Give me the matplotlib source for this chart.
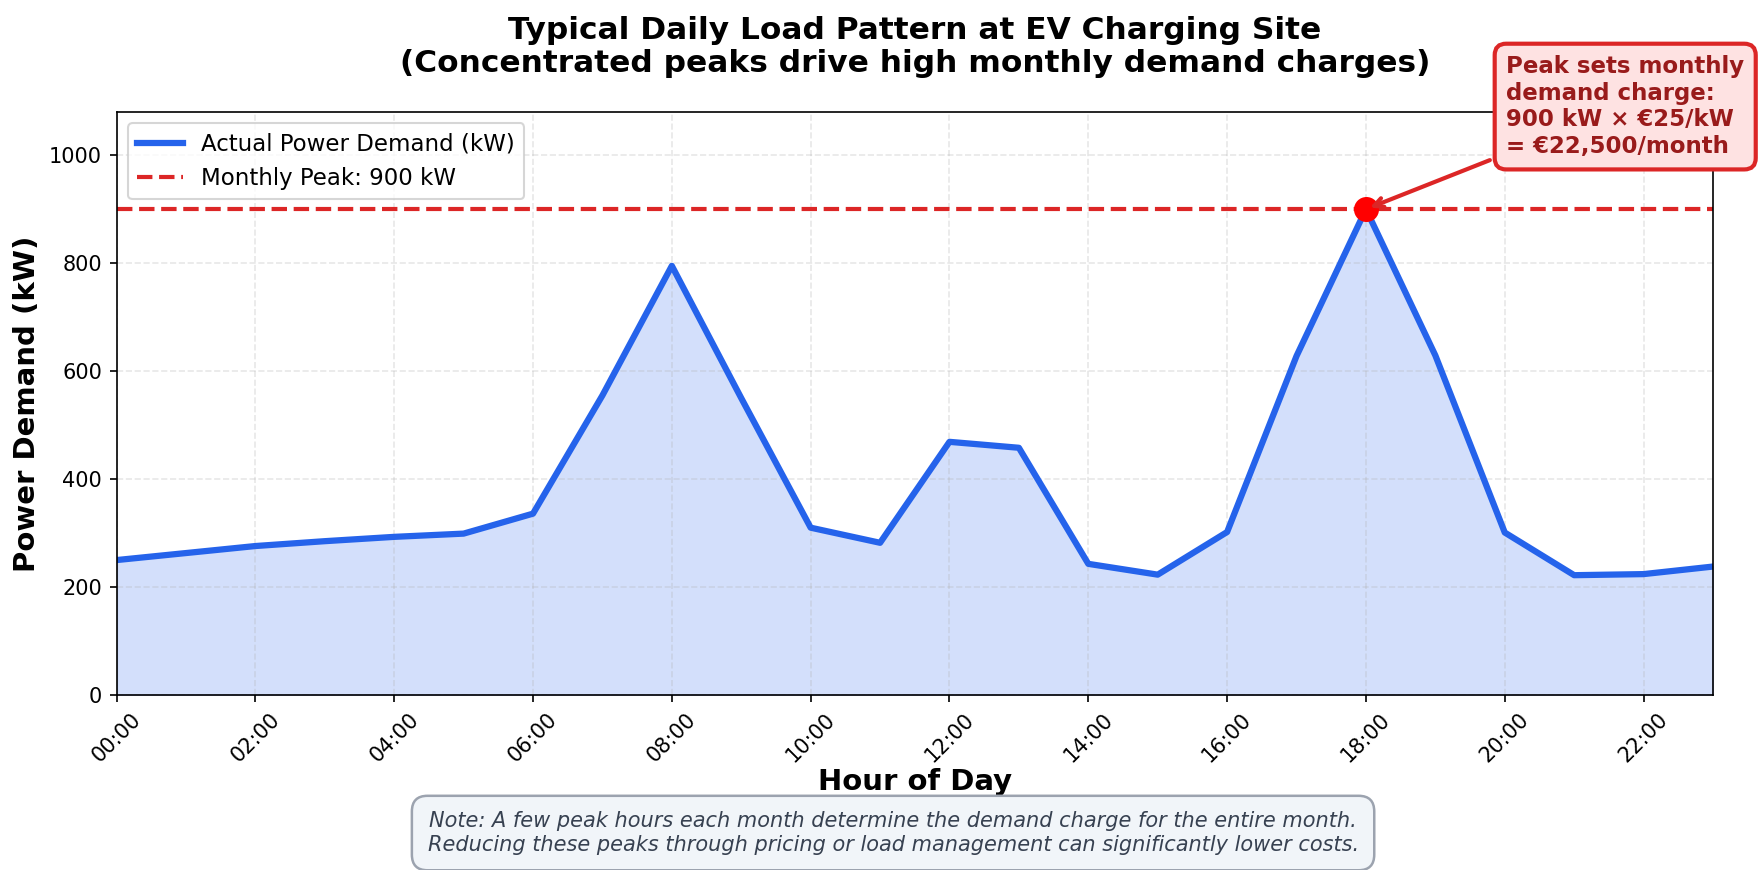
import numpy as np
import matplotlib
matplotlib.use('Agg')
import matplotlib.pyplot as plt

# hourly load profile (kW)
hours = list(range(24))
hour_labels = ['%02d:00' % h for h in hours]
demand_kw = [250, 263, 276, 285, 293, 299, 336, 555, 795, 550, 310, 282,
             469, 458, 243, 223, 302, 628, 900, 629, 301, 222, 224, 238]
peak_kw = 900
peak_hour = 18
rate_eur = 25

fig = plt.figure(figsize=(11.72, 5.8), dpi=150)
ax = fig.add_axes([0.0663, 0.2011, 0.9081, 0.6702])

ax.fill_between(hours, demand_kw, color='#2563eb', alpha=0.2)
ax.plot(hours, demand_kw, color='#2563eb', lw=3, label='Actual Power Demand (kW)')
ax.axhline(peak_kw, color='#dc2626', ls='--', lw=2, label='Monthly Peak: %d kW' % peak_kw)
ax.plot(peak_hour, peak_kw, 'o', color='red', markersize=11, zorder=5)

ax.annotate('Peak sets monthly\ndemand charge:\n%d kW × €%d/kW\n= €%s/month'
            % (peak_kw, rate_eur, format(peak_kw * rate_eur, ',')),
            xy=(peak_hour, peak_kw), xytext=(20.02, 1090),
            ha='left', va='center', fontsize=11, fontweight='bold', color='#991b1b',
            bbox=dict(boxstyle='round,pad=0.5', fc='#fee2e2', ec='#dc2626', lw=2),
            arrowprops=dict(arrowstyle='->', color='#dc2626', lw=2),
            annotation_clip=False, zorder=6)

ax.set_xlim(0, 23)
ax.set_ylim(0, peak_kw * 1.2)
ax.set_xticks(hours[::2])
ax.set_xticklabels(hour_labels[::2], rotation=45)
ax.tick_params(labelsize=10)
ax.grid(True, ls='--', alpha=0.3)

ax.set_xlabel('Hour of Day', fontsize=14, fontweight='bold', labelpad=1)
ax.set_ylabel('Power Demand (kW)', fontsize=14, fontweight='bold')
ax.set_title('Typical Daily Load Pattern at EV Charging Site\n'
             '(Concentrated peaks drive high monthly demand charges)',
             fontsize=15, fontweight='bold', pad=19)
ax.legend(loc='upper left', fontsize=11)

fig.text(0.508, 0.0425,
         'Note: A few peak hours each month determine the demand charge for the entire month.\n'
         'Reducing these peaks through pricing or load management can significantly lower costs.',
         ha='center', va='center', fontsize=10, style='italic', color='#374151',
         bbox=dict(boxstyle='round,pad=0.75', fc='#f1f5f9', ec='#9ca3af', lw=1.2))

fig.savefig('out.png', dpi=150)
